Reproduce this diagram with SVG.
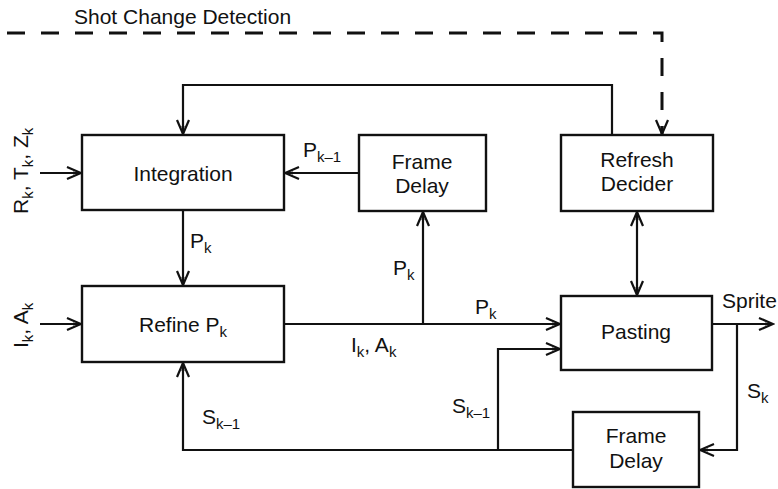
<svg xmlns="http://www.w3.org/2000/svg" width="778" height="489" viewBox="0 0 778 489">
  <defs>
    <marker id="arr" viewBox="-16 -8 18 16" refX="0" refY="0" markerWidth="18" markerHeight="16" markerUnits="userSpaceOnUse" orient="auto-start-reverse">
      <path d="M-14,-6 L0,0 L-14,6" fill="none" stroke="#111" stroke-width="2.2"/>
      <path d="M-8,-1.5 L0,0 L-8,1.5 Z" fill="#111"/>
    </marker>
    <style>
      .box { fill: #fff; stroke: #111; stroke-width: 2.4; }
      .lbl { font-family: "Liberation Sans", Arial, sans-serif; font-size: 21px; fill: #111; }
      .mid { text-anchor: middle; }
      .wire { fill: none; stroke: #111; stroke-width: 2.2; }
      .arrow { marker-end: url(#arr); }
      .dash { fill: none; stroke: #111; stroke-width: 3; stroke-dasharray: 18 16; marker-end: url(#arr); }
    </style>
  </defs>

  <!-- connectors -->
  <g id="connectors">
    <path class="dash" d="M7,33 H662 V134"/>
    <path class="wire arrow" d="M612,135 V85 H183 V134"/>
    <path class="wire arrow" d="M359,173 H285"/>
    <path class="wire arrow" d="M40,173 H81"/>
    <path class="wire arrow" d="M183,210 V285"/>
    <path class="wire arrow" d="M40,324 H81"/>
    <path class="wire arrow" d="M284,324 H560"/>
    <path class="wire arrow" d="M423,324 V212"/>
    <path class="wire" d="M637,212 V295" marker-start="url(#arr)" marker-end="url(#arr)"/>
    <path class="wire arrow" d="M712,324 H773"/>
    <path class="wire arrow" d="M737,324 V450 H700"/>
    <path class="wire arrow" d="M573,450 H183 V363"/>
    <path class="wire arrow" d="M498,450 V349 H560"/>
  </g>

  <!-- connector labels -->
  <g id="labels" class="lbl">
    <text x="74" y="24">Shot Change Detection</text>
    <text x="303" y="157">P<tspan font-size="15" dy="5">k–1</tspan></text>
    <text x="190" y="248">P<tspan font-size="15" dy="5">k</tspan></text>
    <text x="393" y="275">P<tspan font-size="15" dy="5">k</tspan></text>
    <text x="475" y="314">P<tspan font-size="15" dy="5">k</tspan></text>
    <text x="351" y="352">I<tspan font-size="15" dy="5">k</tspan><tspan dy="-5">, A</tspan><tspan font-size="15" dy="5">k</tspan></text>
    <text x="722" y="308">Sprite</text>
    <text x="747" y="398">S<tspan font-size="15" dy="5">k</tspan></text>
    <text x="452" y="413">S<tspan font-size="15" dy="5">k–1</tspan></text>
    <text x="202" y="424">S<tspan font-size="15" dy="5">k–1</tspan></text>
    <text transform="translate(28,214) rotate(-90)">R<tspan font-size="15" dy="5">k</tspan><tspan dy="-5">, T</tspan><tspan font-size="15" dy="5">k</tspan><tspan dy="-5">, Z</tspan><tspan font-size="15" dy="5">k</tspan></text>
    <text transform="translate(28,348) rotate(-90)">I<tspan font-size="15" dy="5">k</tspan><tspan dy="-5">, A</tspan><tspan font-size="15" dy="5">k</tspan></text>
  </g>

  <!-- nodes -->
  <g id="integration">
    <rect class="box" x="82" y="135" width="202" height="75"/>
    <text class="lbl mid" x="183" y="181">Integration</text>
  </g>
  <g id="frame-delay-top">
    <rect class="box" x="359" y="135" width="127" height="76"/>
    <text class="lbl mid" x="422" y="169">Frame</text>
    <text class="lbl mid" x="422" y="193">Delay</text>
  </g>
  <g id="refresh-decider">
    <rect class="box" x="561" y="135" width="152" height="76"/>
    <text class="lbl mid" x="637" y="167">Refresh</text>
    <text class="lbl mid" x="637" y="191">Decider</text>
  </g>
  <g id="refine">
    <rect class="box" x="82" y="286" width="202" height="76"/>
    <text class="lbl mid" x="183" y="332">Refine P<tspan font-size="15" dy="5">k</tspan></text>
  </g>
  <g id="pasting">
    <rect class="box" x="561" y="296" width="151" height="74"/>
    <text class="lbl mid" x="636" y="339">Pasting</text>
  </g>
  <g id="frame-delay-bottom">
    <rect class="box" x="573" y="412" width="126" height="75"/>
    <text class="lbl mid" x="636" y="443">Frame</text>
    <text class="lbl mid" x="636" y="468">Delay</text>
  </g>
</svg>
